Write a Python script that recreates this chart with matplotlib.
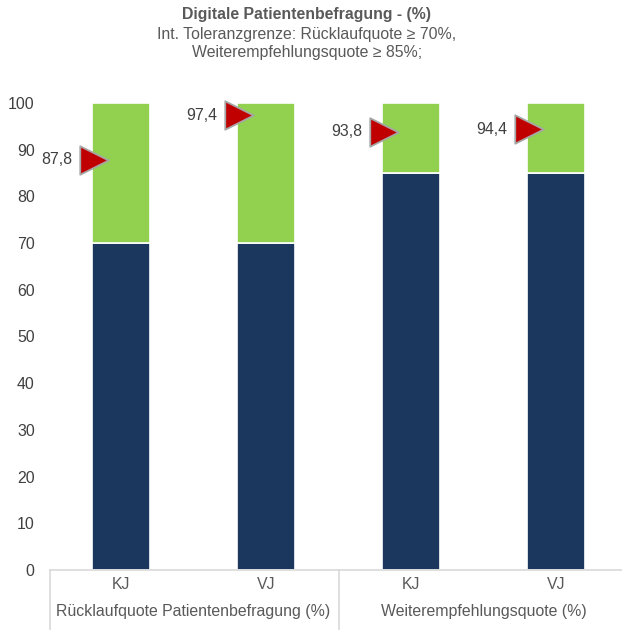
import numpy as np
import matplotlib
matplotlib.use("Agg")
import matplotlib.pyplot as plt

plt.rcParams['font.family'] = ['Liberation Sans', 'DejaVu Sans']

periods = ["KJ", "VJ", "KJ", "VJ"]
groups = ["Rücklaufquote Patientenbefragung (%)", "Weiterempfehlungsquote (%)"]
limits = [70, 70, 85, 85]          # Toleranzgrenze
actual = [87.8, 97.4, 93.8, 94.4]  # Ist-Werte
actual_labels = ["87,8", "97,4", "93,8", "94,4"]

navy = "#1B375E"
green = "#92D050"
grey = "#595959"
line_col = "#D9D9D9"
fs = 11.4

fig = plt.figure(figsize=[6.22, 6.30], dpi=100)
ax = fig.add_axes([50/622, 60/630, 572/622, 467/630])

x = np.arange(len(periods))
w = 0.4
rest = [100 - v for v in limits]
ax.bar(x, limits, w, color=navy, edgecolor="white", linewidth=1.2, clip_on=False)
ax.bar(x, rest, w, bottom=limits, color=green, edgecolor="white", linewidth=1.2, clip_on=False)

# Ist-Wert als Dreieck links am Balken
ax.scatter(x - 0.185, actual, marker=">", s=420, color="#C00000",
           edgecolors="#A6A6A6", linewidths=1.3, zorder=5, clip_on=False)
for xi, v, lab in zip(x, actual, actual_labels):
    ax.text(xi - 0.335, v, lab, ha="right", va="center", fontsize=fs, color="#404040")

ax.set_xlim(-0.49, -0.49 + 572/145)
ax.set_ylim(0, 100)
ax.set_yticks(np.arange(0, 101, 10))
ax.tick_params(axis="y", length=0, labelsize=fs, labelcolor="#404040", pad=11)
ax.set_xticks([])
for s in ["top", "right", "left"]:
    ax.spines[s].set_visible(False)
ax.spines["bottom"].set_color(line_col)
ax.spines["bottom"].set_linewidth(1.2)

# Kategorie-Achse mit Gruppen
tr = ax.get_xaxis_transform()
for sep in [-0.49, 1.5, 3.5]:
    ax.plot([sep, sep], [0, -0.13], transform=tr, color=line_col, lw=1.2, clip_on=False)
for xi, p in zip(x, periods):
    ax.text(xi, -0.030, p, transform=tr, ha="center", va="center", fontsize=fs, color=grey)
for gi, g in enumerate(groups):
    ax.text(gi * 2 + 0.5, -0.088, g, transform=tr, ha="center", va="center", fontsize=fs, color=grey)

fig.text(307/622, 1 - 15/630, "Digitale Patientenbefragung - (%)", ha="center", va="center",
         fontsize=fs, fontweight="bold", color=grey)
fig.text(307/622, 1 - 34/630, "Int. Toleranzgrenze: Rücklaufquote ≥ 70%,", ha="center", va="center",
         fontsize=fs, color=grey)
fig.text(307/622, 1 - 53/630, "Weiterempfehlungsquote ≥ 85%;", ha="center", va="center",
         fontsize=fs, color=grey)

fig.savefig("out.png", dpi=100)
